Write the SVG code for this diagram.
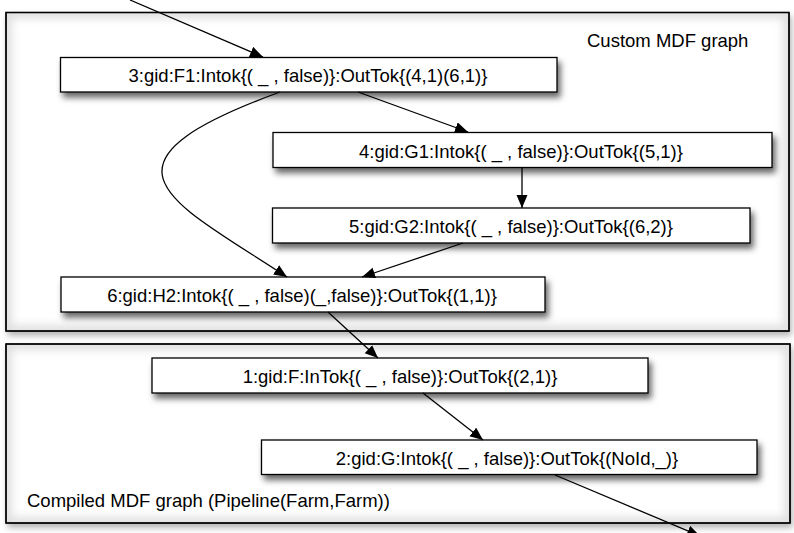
<svg xmlns="http://www.w3.org/2000/svg" width="794" height="533" viewBox="0 0 794 533">
  <style>
    .cont { fill: #ffffff; stroke: #000; stroke-width: 1.3; }
    .box { fill: #ffffff; stroke: #000; stroke-width: 1.3; }
    .txt { font-family: "Liberation Sans", Arial, Helvetica, sans-serif; font-size: 18.5px; fill: #000; }
    .mid { text-anchor: middle; }
    .edge { fill: none; stroke: #000; stroke-width: 1.3; marker-end: url(#arrow); }
    .glow { fill: none; stroke: #000; stroke-opacity: 0.12; stroke-width: 12; }
  </style>
  <defs>
    <marker id="arrow" markerUnits="userSpaceOnUse" markerWidth="14" markerHeight="12" refX="13" refY="5.5" orient="auto">
      <path d="M0,0 L13,5.5 L0,11 z" fill="#000"/>
    </marker>
    <filter id="shadow" x="-10%" y="-30%" width="125%" height="180%">
      <feDropShadow dx="3" dy="5" stdDeviation="3" flood-color="#000" flood-opacity="0.6"/>
    </filter>
    <filter id="cshadow" x="-5%" y="-5%" width="110%" height="115%">
      <feDropShadow dx="2" dy="4" stdDeviation="3" flood-color="#000" flood-opacity="0.3"/>
    </filter>
    <filter id="blur" x="-5%" y="-5%" width="110%" height="110%">
      <feGaussianBlur stdDeviation="4"/>
    </filter>
    <clipPath id="clip1"><rect x="6" y="12.5" width="783" height="318.5"/></clipPath>
    <clipPath id="clip2"><rect x="6" y="344" width="784" height="179"/></clipPath>
  </defs>

  <rect x="0" y="0" width="794" height="533" fill="#ffffff"/>

  <g id="container-custom">
    <rect class="cont" x="6" y="12.5" width="783" height="318.5" filter="url(#cshadow)"/>
    <rect class="glow" x="6" y="12.5" width="783" height="318.5" clip-path="url(#clip1)" filter="url(#blur)"/>
    <rect x="6" y="12.5" width="783" height="318.5" fill="none" stroke="#000" stroke-width="1.3"/>
    <text class="txt" x="587" y="46.5">Custom MDF graph</text>
  </g>

  <g id="container-compiled">
    <rect class="cont" x="6" y="344" width="784" height="179" filter="url(#cshadow)"/>
    <rect class="glow" x="6" y="344" width="784" height="179" clip-path="url(#clip2)" filter="url(#blur)"/>
    <rect x="6" y="344" width="784" height="179" fill="none" stroke="#000" stroke-width="1.3"/>
    <text class="txt" x="27" y="507">Compiled MDF graph (Pipeline(Farm,Farm))</text>
  </g>

  <g id="n3">
    <rect class="box" x="60.5" y="57.5" width="496.5" height="34.5" filter="url(#shadow)"/>
    <text class="txt mid" x="308" y="82">3:gid:F1:Intok{( _ , false)}:OutTok{(4,1)(6,1)}</text>
  </g>

  <g id="n4">
    <rect class="box" x="273" y="132.5" width="499" height="35" filter="url(#shadow)"/>
    <text class="txt mid" x="521" y="157.5">4:gid:G1:Intok{( _ , false)}:OutTok{(5,1)}</text>
  </g>

  <g id="n5">
    <rect class="box" x="272.5" y="208" width="477.5" height="35" filter="url(#shadow)"/>
    <text class="txt mid" x="511" y="233">5:gid:G2:Intok{( _ , false)}:OutTok{(6,2)}</text>
  </g>

  <g id="n6">
    <rect class="box" x="61" y="277" width="484" height="35" filter="url(#shadow)"/>
    <text class="txt mid" x="302" y="302">6:gid:H2:Intok{( _ , false)(_,false)}:OutTok{(1,1)}</text>
  </g>

  <g id="n1">
    <rect class="box" x="152" y="358" width="496" height="35" filter="url(#shadow)"/>
    <text class="txt mid" x="400" y="383">1:gid:F:InTok{( _ , false)}:OutTok{(2,1)}</text>
  </g>

  <g id="n2">
    <rect class="box" x="261.5" y="440" width="495.5" height="34.5" filter="url(#shadow)"/>
    <text class="txt mid" x="507" y="465">2:gid:G:Intok{( _ , false)}:OutTok{(NoId,_)}</text>
  </g>

  <g id="connectors">
    <path class="edge" d="M130,0 L263,57"/>
    <path class="edge" d="M358,92 L468,132"/>
    <path class="edge" d="M280,92 C80,165 170,200 287,277"/>
    <path class="edge" d="M522,168 L522,208"/>
    <path class="edge" d="M463,243 L362,277"/>
    <path class="edge" d="M328,312 L378,358"/>
    <path class="edge" d="M423,393 L483,440"/>
    <path class="edge" d="M555,475 L700,536"/>
  </g>
</svg>
